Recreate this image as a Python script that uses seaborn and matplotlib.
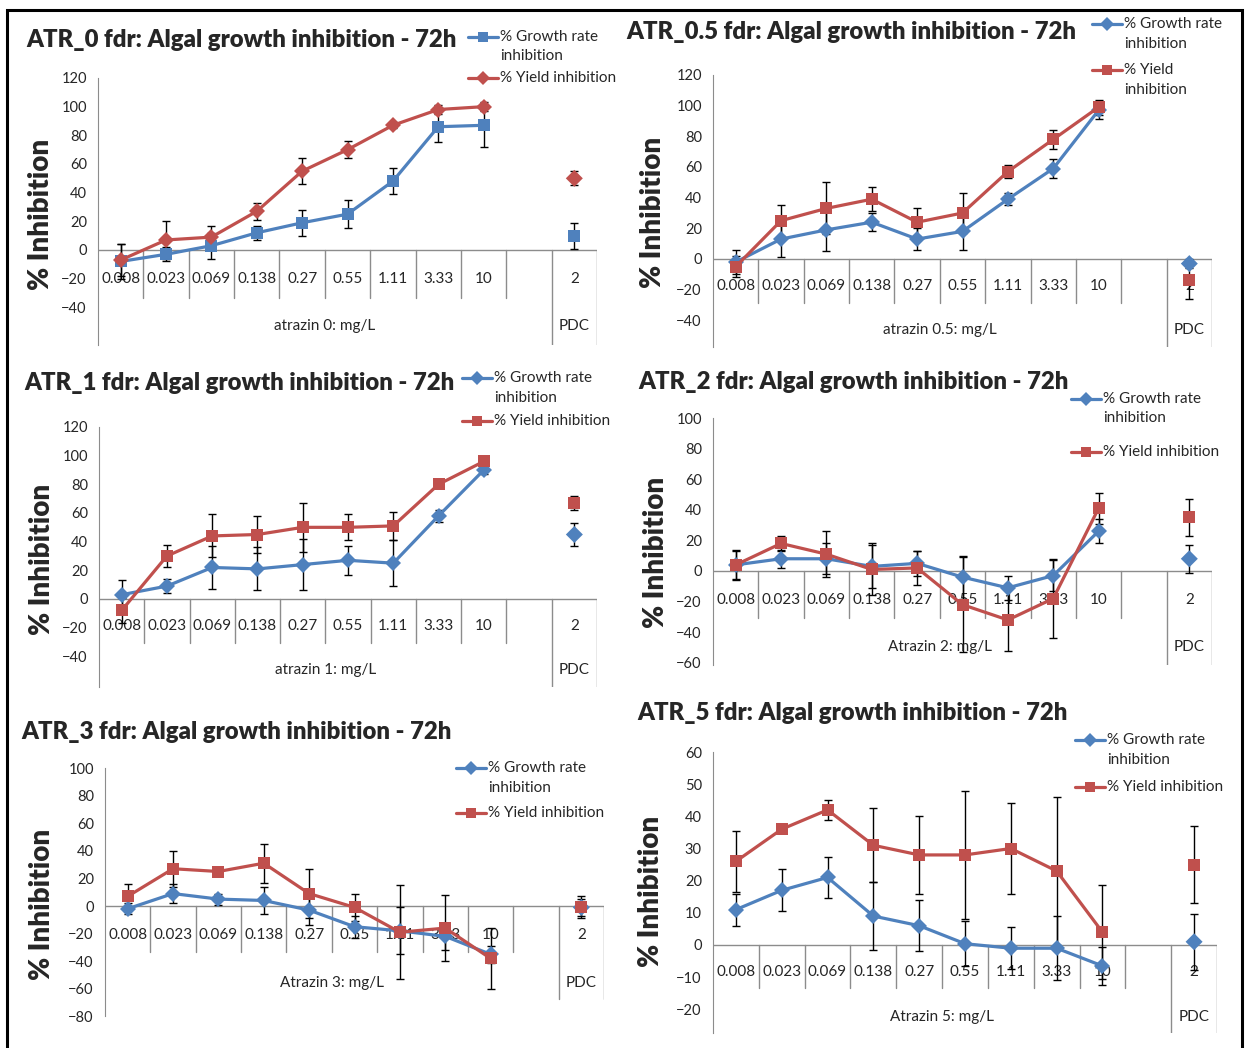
import numpy as np
import pandas as pd
import seaborn as sns
import matplotlib.pyplot as plt
from matplotlib.lines import Line2D

# Category labels
conc_labels = ["0.008", "0.023", "0.069", "0.138", "0.27", "0.55", "1.11", "3.33", "10"]
pdc_label = "2"

# ATR_0
atr0_growth = [-8, -3, 3, 12, 19, 25, 48, 86, 87]
atr0_growth_err = [12, 5, 9, 5, 9, 10, 9, 11, 15]
atr0_growth_pdc, atr0_growth_pdc_err = 10, 9
atr0_yield = [-7, 7, 9, 27, 55, 70, 87, 98, 100]
atr0_yield_err = [11, 13, 8, 6, 9, 6, 2, 3, 3]
atr0_yield_pdc, atr0_yield_pdc_err = 50, 5

# ATR_0.5
atr05_growth = [-2, 13, 19, 24, 13, 18, 39, 59, 97]
atr05_growth_err = [8, 12, 14, 6, 7, 12, 4, 6, 6]
atr05_growth_pdc, atr05_growth_pdc_err = -3, 3
atr05_yield = [-5, 25, 33, 39, 24, 30, 57, 78, 99]
atr05_yield_err = [7, 10, 17, 8, 9, 13, 4, 6, 5]
atr05_yield_pdc, atr05_yield_pdc_err = -14, 12

# ATR_1
atr1_growth = [3, 9, 22, 21, 24, 27, 25, 58, 90]
atr1_growth_err = [10, 5, 15, 15, 18, 10, 16, 4, 3]
atr1_growth_pdc, atr1_growth_pdc_err = 45, 8
atr1_yield = [-8, 30, 44, 45, 50, 50, 51, 80, 96]
atr1_yield_err = [9, 8, 15, 13, 17, 9, 10, 2, 2]
atr1_yield_pdc, atr1_yield_pdc_err = 67, 5

# ATR_2
atr2_growth = [4, 8, 8, 3, 5, -4, -11, -3, 26]
atr2_growth_err = [9, 6, 10, 14, 8, 14, 8, 10, 8]
atr2_growth_pdc, atr2_growth_pdc_err = 8, 9
atr2_yield = [4, 18, 11, 1, 2, -22, -32, -18, 41]
atr2_yield_err = [10, 5, 15, 17, 11, 31, 20, 26, 10]
atr2_yield_pdc, atr2_yield_pdc_err = 35, 12

# ATR_3
atr3_growth = [-2, 9, 5, 4, -3, -15, -18, -22, -35]
atr3_growth_err = [4, 7, 4, 10, 11, 8, 17, 10, 6]
atr3_growth_pdc, atr3_growth_pdc_err = -1, 8
atr3_yield = [7, 27, 25, 31, 9, -1, -19, -16, -38]
atr3_yield_err = [9, 13, 3, 14, 18, 10, 34, 24, 22]
atr3_yield_pdc, atr3_yield_pdc_err = -1, 6

# ATR_5
atr5_growth = [11, 17, 21, 9, 6, 0.4, -1, -1, -6.5]
atr5_growth_err = [5, 6.5, 6.5, 10.5, 8, 7, 6.5, 10, 6]
atr5_growth_pdc, atr5_growth_pdc_err = 1, 8.7
atr5_yield = [26, 36, 42, 31, 28, 28, 30, 23, 4]
atr5_yield_err = [9.5, 1, 3, 11.5, 12, 20, 14, 23, 14.5]
atr5_yield_pdc, atr5_yield_pdc_err = 25, 12

BLUE = "#4F81BD"
RED = "#C0504D"
GRAY = "#8C8C8C"
W, H = 1247, 1048

sns.set_style("white")
plt.rcParams["font.family"] = ["Lato", "DejaVu Sans"]

fig = plt.figure(figsize=(W / 100, H / 100), dpi=100)

# overlay in pixel coords for titles, legends, frame
over = fig.add_axes([0, 0, 1, 1], zorder=5)
over.set_xlim(0, W)
over.set_ylim(H, 0)
over.axis("off")
over.patch.set_visible(False)


def draw_panel(lay, title, group_label, growth, growth_err, g_pdc, g_pdc_err,
               yld, yld_err, y_pdc, y_pdc_err, g_marker, y_marker, yield_text):
    (left, right, top, zero, sep, grp_bot, ymax, ymin, step, cat_y, grp_y,
     tx, ty, lx, ly, legx, leg_g, leg_y) = lay
    ppu = (zero - top) / ymax
    low_px = max(grp_bot, zero - ymin * ppu)
    ylo = -(low_px - zero) / ppu
    ax = fig.add_axes([left / W, 1 - low_px / H, (right - left) / W, (low_px - top) / H])
    ax.set_xlim(-0.5, 10.5)
    ax.set_ylim(ylo, ymax)
    ax.patch.set_visible(False)
    for s in ["top", "right", "bottom"]:
        ax.spines[s].set_visible(False)
    ax.spines["left"].set_color(GRAY)
    ax.set_yticks(np.arange(ymin, ymax + 1, step))
    ax.tick_params(axis="y", direction="out", length=4, color=GRAY, labelsize=10.5, pad=4)
    ax.set_xticks([])

    # category axis at y = 0
    ax.axhline(0, color=GRAY, lw=1, zorder=1)
    sep_d = -(sep - zero) / ppu
    grp_d = -(grp_bot - zero) / ppu
    for k in range(9):
        ax.plot([k + 0.5, k + 0.5], [0, sep_d], color=GRAY, lw=1, zorder=1)
    for xg in [9.5, 10.5]:
        ax.plot([xg, xg], [0, grp_d], color=GRAY, lw=1, zorder=1)
    cat_d = -(cat_y - zero) / ppu
    for i, lab in enumerate(conc_labels):
        ax.text(i, cat_d, lab, ha="center", va="center", fontsize=11, zorder=1)
    ax.text(10, cat_d, pdc_label, ha="center", va="center", fontsize=11, zorder=1)
    grp_t = -(grp_y - zero) / ppu
    ax.text(4.5, grp_t, group_label, ha="center", va="center", fontsize=11)
    ax.text(10, grp_t, "PDC", ha="center", va="center", fontsize=11)

    xs = list(range(9))
    df = pd.DataFrame({
        "x": xs + xs,
        "value": growth + yld,
        "series": ["growth"] * 9 + ["yield"] * 9,
    })
    ax.errorbar(xs + [10], growth + [g_pdc], yerr=growth_err + [g_pdc_err], fmt="none",
                ecolor="black", elinewidth=1, capsize=3, capthick=1, zorder=1.5)
    ax.errorbar(xs + [10], yld + [y_pdc], yerr=yld_err + [y_pdc_err], fmt="none",
                ecolor="black", elinewidth=1, capsize=3, capthick=1, zorder=1.5)
    sns.lineplot(data=df, x="x", y="value", hue="series", style="series",
                 palette={"growth": BLUE, "yield": RED},
                 markers={"growth": g_marker, "yield": y_marker}, dashes=False,
                 markersize=8, markeredgewidth=0, linewidth=2.3, legend=False,
                 ax=ax, zorder=3)
    pdc_df = pd.DataFrame({"x": [10, 10], "value": [g_pdc, y_pdc], "series": ["growth", "yield"]})
    sns.scatterplot(data=pdc_df, x="x", y="value", hue="series", style="series",
                    palette={"growth": BLUE, "yield": RED},
                    markers={"growth": g_marker, "yield": y_marker},
                    s=75, linewidth=0, legend=False, ax=ax, zorder=3)
    ax.set_xlabel("")
    ax.set_ylabel("")

    # title, y label, legend in overlay
    over.text(tx, ty, title, ha="left", va="center", fontsize=17.2, fontweight="heavy")
    over.text(lx, ly, "% Inhibition", ha="center", va="center", rotation=90,
              fontsize=20, fontweight="heavy")
    for yy, col, mk, txt in [(leg_g, BLUE, g_marker, "% Growth rate\ninhibition"),
                             (leg_y, RED, y_marker, yield_text)]:
        over.add_line(Line2D([legx, legx + 15, legx + 30], [yy, yy, yy], color=col, lw=2.3,
                             marker=mk, markevery=[1], markersize=7.5, markeredgewidth=0))
        over.text(legx + 32, yy - 7, txt, ha="left", va="top", fontsize=11,
                  linespacing=1.5)


lay1 = (98, 597, 78, 250, 298, 345, 120, -40, 20, 279, 326, 26, 40, 41, 214, 468, 37, 78)
lay2 = (713, 1212, 75, 259, 303, 347, 120, -40, 20, 286, 330, 626, 32, 653, 212, 1092, 24, 70)
lay3 = (99, 597, 427, 599, 643, 687, 120, -40, 20, 626, 670, 24, 383, 42, 559, 462, 378, 421)
lay4 = (713, 1212, 418, 571, 618, 665, 100, -60, 20, 600, 647, 638, 382, 656, 552, 1071, 399, 452)
lay5 = (105, 604, 768, 906, 952, 999, 100, -80, 20, 935, 983, 21, 732, 42, 904, 456, 768, 813)
lay6 = (713, 1217, 752, 945, 988, 1033, 60, -20, 10, 972, 1017, 637, 713, 651, 891, 1075, 740, 787)

draw_panel(lay1, "ATR_0 fdr: Algal growth inhibition - 72h", "atrazin 0: mg/L",
           atr0_growth, atr0_growth_err, atr0_growth_pdc, atr0_growth_pdc_err,
           atr0_yield, atr0_yield_err, atr0_yield_pdc, atr0_yield_pdc_err,
           "s", "D", "% Yield inhibition")
draw_panel(lay2, "ATR_0.5 fdr: Algal growth inhibition - 72h", "atrazin 0.5: mg/L",
           atr05_growth, atr05_growth_err, atr05_growth_pdc, atr05_growth_pdc_err,
           atr05_yield, atr05_yield_err, atr05_yield_pdc, atr05_yield_pdc_err,
           "D", "s", "% Yield\ninhibition")
draw_panel(lay3, "ATR_1 fdr: Algal growth inhibition - 72h", "atrazin 1: mg/L",
           atr1_growth, atr1_growth_err, atr1_growth_pdc, atr1_growth_pdc_err,
           atr1_yield, atr1_yield_err, atr1_yield_pdc, atr1_yield_pdc_err,
           "D", "s", "% Yield inhibition")
draw_panel(lay4, "ATR_2 fdr: Algal growth inhibition - 72h", "Atrazin 2: mg/L",
           atr2_growth, atr2_growth_err, atr2_growth_pdc, atr2_growth_pdc_err,
           atr2_yield, atr2_yield_err, atr2_yield_pdc, atr2_yield_pdc_err,
           "D", "s", "% Yield inhibition")
draw_panel(lay5, "ATR_3 fdr: Algal growth inhibition - 72h", "Atrazin 3: mg/L",
           atr3_growth, atr3_growth_err, atr3_growth_pdc, atr3_growth_pdc_err,
           atr3_yield, atr3_yield_err, atr3_yield_pdc, atr3_yield_pdc_err,
           "D", "s", "% Yield inhibition")
draw_panel(lay6, "ATR_5 fdr: Algal growth inhibition - 72h", "Atrazin 5: mg/L",
           atr5_growth, atr5_growth_err, atr5_growth_pdc, atr5_growth_pdc_err,
           atr5_yield, atr5_yield_err, atr5_yield_pdc, atr5_yield_pdc_err,
           "D", "s", "% Yield inhibition")

# outer frame
over.plot([6.5, 6.5, 1241.5, 1241.5], [H, 9.5, 9.5, H], color="black", lw=2.2,
          solid_joinstyle="miter")

fig.savefig("out.png", dpi=100)
